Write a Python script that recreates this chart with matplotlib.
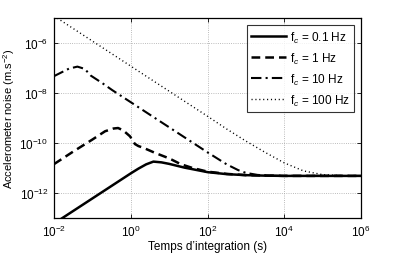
import matplotlib
matplotlib.use("Agg")
import matplotlib.pyplot as plt

plt.rcParams['font.family'] = ['Liberation Sans', 'DejaVu Sans']
plt.rcParams['mathtext.fontset'] = 'custom'
plt.rcParams['mathtext.rm'] = 'Liberation Sans'
plt.rcParams['mathtext.it'] = 'Liberation Sans:italic'
plt.rcParams['mathtext.bf'] = 'Liberation Sans:bold'

# integration time (s) and noise (m.s^-2)
t_01 = [1e-2, 1e-1, 10**-0.5, 1, 10**0.2, 10**0.4, 10**0.59, 10**0.8, 10, 10**1.4,
        1e2, 10**2.5, 1e3, 10**3.5, 1e4, 1e5, 1e6]
n_01 = [10**-13.22, 10**-12.22, 10**-11.72, 10**-11.22, 10**-11.03, 10**-10.86, 10**-10.75,
        10**-10.78, 10**-10.84, 10**-10.99, 10**-11.17, 10**-11.25, 10**-11.29, 10**-11.31,
        10**-11.32, 10**-11.32, 10**-11.32]

t_1 = [1e-2, 10**-1.5, 1e-1, 10**-0.67, 10**-0.45, 10**-0.33, 10**-0.2, 10**-0.02, 10**0.11,
       10**0.2, 10**0.33, 10**0.63, 10, 10**1.3, 10**1.6, 1e2, 10**2.5, 1e3, 1e4, 1e6]
n_1 = [10**-10.85, 10**-10.35, 10**-9.87, 10**-9.54, 10**-9.43, 10**-9.41, 10**-9.5, 10**-9.74,
       10**-10.05, 10**-10.13, 10**-10.2, 10**-10.4, 10**-10.62, 10**-10.85, 10**-11.0,
       10**-11.15, 10**-11.24, 10**-11.29, 10**-11.32, 10**-11.32]

t_10 = [1e-2, 10**-1.87, 10**-1.61, 10**-1.39, 10**-1.2, 10**-1.04, 10**-0.74, 10**-0.48, 1,
        10**0.58, 10, 10**1.5, 1e2, 10**2.5, 10**2.8, 1e3, 10**3.3, 10**3.6, 1e4, 1e6]
n_10 = [10**-7.34, 10**-7.24, 10**-7.04, 10**-6.96, 10**-7.05, 10**-7.32, 10**-7.62, 10**-7.9,
        10**-8.38, 10**-8.96, 10**-9.38, 10**-9.88, 10**-10.38, 10**-10.86, 10**-11.09,
        10**-11.2, 10**-11.28, 10**-11.31, 10**-11.32, 10**-11.32]

t_100 = [1e-2, 1e-1, 1, 10, 1e2, 10**2.5, 1e3, 10**3.5, 1e4, 10**4.5, 1e5, 10**5.5, 1e6]
n_100 = [10**-4.94, 10**-5.94, 10**-6.94, 10**-7.94, 10**-8.94, 10**-9.45, 10**-9.93,
         10**-10.38, 10**-10.8, 10**-11.12, 10**-11.27, 10**-11.31, 10**-11.32]

labels = ['f$_c$ = 0.1 Hz', 'f$_c$ = 1 Hz', 'f$_c$ = 10 Hz', 'f$_c$ = 100 Hz']

fig = plt.figure(figsize=(3.99, 2.55), dpi=100)
ax = fig.add_axes([54/399, 36/255, 307/399, 200/255])

ax.loglog(t_01, n_01, color='k', lw=1.8, ls='-', label=labels[0])
ax.loglog(t_1, n_1, color='k', lw=1.8, ls=(0, (3.5, 2)), label=labels[1])
ax.loglog(t_10, n_10, color='k', lw=1.5, ls=(0, (5, 2, 1, 2)), label=labels[2])
ax.loglog(t_100, n_100, color='k', lw=1.0, ls=(0, (0.8, 2.0)), label=labels[3])

ax.set_xlim(1e-2, 1e6)
ax.set_ylim(1e-13, 10**-5.02)
ax.set_xticks([1e-2, 1e0, 1e2, 1e4, 1e6])
ax.set_yticks([1e-12, 1e-10, 1e-8, 1e-6])
ax.minorticks_off()
ax.tick_params(direction='in', top=True, right=True, length=3, width=0.6, labelsize=8.5, pad=4)
ax.grid(True, ls=':', color='0.65', lw=0.6)
for s in ax.spines.values():
    s.set_linewidth(0.9)

ax.set_xlabel('Temps d\u2019integration (s)', fontsize=8.5, labelpad=1)
ax.set_ylabel('Accelerometer noise (m.s$^{-2}$)', fontsize=8)
ax.yaxis.set_label_coords(-0.12, 0.5)

leg = ax.legend(loc='upper right', bbox_to_anchor=(0.985, 0.975), fontsize=8.5, frameon=True,
                fancybox=False, edgecolor='k', handlelength=3.0, labelspacing=0.5,
                handletextpad=0.3, borderpad=0.35, borderaxespad=0.2)
leg.get_frame().set_linewidth(0.8)

fig.savefig('out.png', dpi=100)
